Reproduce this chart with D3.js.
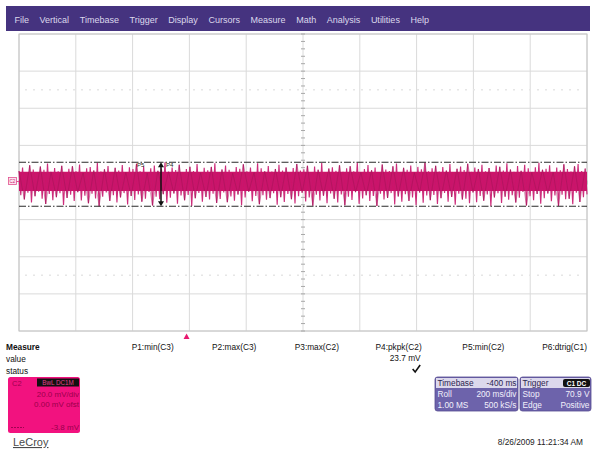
<!DOCTYPE html>
<html><head><meta charset="utf-8">
<script src="https://cdn.jsdelivr.net/npm/d3@7/dist/d3.min.js"></script>
<style>
html,body{margin:0;padding:0;background:#fff;}
svg{display:block;font-family:"Liberation Sans",Arial,sans-serif;}
</style></head>
<body>
<svg id="c" width="593" height="451"></svg>
<script>
// ---------- data ----------
const menuItems = ["File","Vertical","Timebase","Trigger","Display","Cursors","Measure","Math","Analysis","Utilities","Help"];
const timeDomainMs = [0, 2000];      // 10 div x 200 ms/div
const voltDomainMv = [-80, 80];      // 8 div x 20 mV/div
const timeDivMs = 200, voltDivMv = 20;
const traceHi = [
6.2,8.1,5.4,9.3,7.0,4.8,8.6,6.9,10.2,5.7,7.8,6.1,9.0,4.9,7.4,8.8,6.0,9.7,5.2,7.6,
8.3,6.5,10.6,5.9,7.1,8.9,4.6,7.9,6.4,9.4,5.5,8.2,7.3,10.1,6.0,8.7,5.1,7.7,9.2,6.3,
7.5,10.9,5.8,8.0,6.7,9.6,4.7,7.2,8.5,6.2,9.9,5.3,7.9,6.6,8.4,10.4,5.6,7.0,9.1,6.8,
5.0,8.3,7.4,9.8,6.1,8.0,5.4,10.3,7.6,6.0,8.9,5.9,7.3,9.5,6.4,8.1,4.8,7.8,10.0,6.5,
7.1,9.0,5.7,8.6,6.9,10.5,5.2,7.5,8.2,6.3,9.3,5.8,7.7,8.8,6.0,10.7,5.5,7.2,9.4,6.6,
8.0,5.1,9.7,7.0,6.2,8.7,10.2,5.6,7.9,6.8,9.2,5.3,8.4,7.1,10.8,6.1,7.6,9.0,5.9,8.3,
6.4,9.9,5.0,7.4,8.6,6.7,10.1,5.7,8.1,7.3,9.6,6.0,7.8,5.4,9.1,8.5,6.5,10.4,7.0,5.8,
8.9,6.3,9.5,7.7,5.5,8.2,10.6,6.9,7.4,9.3,5.6,8.0,6.6,9.8,7.2,5.9,8.7,10.0,6.2,7.5];
const traceLo = [
-6.8,-9.1,-5.5,-10.7,-7.4,-4.9,-8.8,-11.6,-6.2,-9.5,-7.9,-5.8,-12.1,-8.3,-6.6,-10.0,-5.2,-9.7,-7.1,-11.2,
-6.0,-8.6,-12.8,-7.7,-5.4,-9.9,-6.9,-10.8,-8.0,-5.7,-11.9,-7.3,-9.4,-6.4,-10.3,-8.7,-5.1,-12.4,-7.6,-9.0,
-6.3,-10.9,-8.2,-5.9,-11.4,-7.0,-9.6,-6.7,-12.6,-8.5,-5.6,-10.4,-7.8,-9.2,-6.1,-11.0,-8.9,-5.3,-10.6,-7.5,
-9.8,-6.5,-12.2,-8.1,-5.0,-10.1,-7.2,-11.7,-6.8,-9.3,-8.4,-5.8,-12.0,-7.9,-10.5,-6.2,-9.0,-11.3,-7.4,-5.5,
-10.2,-8.0,-12.5,-6.6,-9.7,-7.1,-11.1,-5.9,-8.8,-10.7,-6.4,-12.3,-7.7,-9.4,-5.2,-11.5,-8.6,-6.9,-10.0,-7.3,
-12.7,-6.0,-9.1,-8.3,-5.7,-11.8,-7.5,-10.4,-6.3,-9.9,-8.1,-12.2,-5.4,-10.9,-7.0,-9.5,-6.7,-11.6,-8.4,-5.6,
-10.3,-7.8,-12.0,-6.1,-9.2,-8.7,-11.2,-5.3,-10.6,-7.2,-9.8,-6.5,-12.8,-8.0,-5.8,-11.0,-7.6,-9.3,-6.8,-10.8,
-8.2,-5.1,-12.4,-7.4,-9.6,-6.2,-11.4,-8.5,-5.9,-10.1,-7.0,-12.6,-6.6,-9.0,-8.8,-11.7,-5.5,-10.5,-7.9,-6.4];
const coreBandMv = [-4.6, 5.8];
const paramLabels = ["P1:min(C3)","P2:max(C3)","P3:max(C2)","P4:pkpk(C2)","P5:min(C2)","P6:dtrig(C1)"];
const paramValues = ["","","","23.7 mV","",""];
const paramStatus = [false,false,false,true,false,false];
const measureRows = ["Measure","value","status"];
const chanLines = ["C2","BwL DC1M","20.0 mV/div","0.00 mV ofst","-3.8 mV"];
const timebaseRows = [["Timebase","-400 ms"],["Roll","200 ms/div"],["1.00 MS","500 kS/s"]];
const triggerRows = [["Trigger","C1 DC"],["Stop","70.9 V"],["Edge","Positive"]];
const triggerTimeMs = 590;
const dateText = "8/26/2009 11:21:34 AM";
const brand = "LeCroy";

// ---------- drawing ----------
const svg = d3.select("#c");
const gx0 = 19, gx1 = 587, gy0 = 34, gy1 = 331;
const x = d3.scaleLinear().domain(timeDomainMs).range([gx0, gx1]);
const y = d3.scaleLinear().domain(voltDomainMv).range([gy1, gy0]);

// menu bar
svg.append("rect").attr("x",6).attr("y",6).attr("width",584).attr("height",25).attr("fill","#45337f");
let mx = 14.5;
menuItems.forEach(m => {
  const t = svg.append("text").attr("x",mx).attr("y",22.5).attr("font-size",9)
    .attr("fill","#dcd8ec").text(m);
  mx += t.node().getComputedTextLength() + 10.6;
});

// grid
const g = svg.append("g");
g.append("rect").attr("x",gx0).attr("y",gy0).attr("width",gx1-gx0).attr("height",gy1-gy0)
  .attr("fill","#fff");
d3.range(timeDomainMs[0], timeDomainMs[1]+1, timeDivMs).forEach(t => {
  g.append("line").attr("x1",x(t)).attr("x2",x(t)).attr("y1",gy0).attr("y2",gy1)
    .attr("stroke","#dadada").attr("stroke-width",1);
});
d3.range(voltDomainMv[0], voltDomainMv[1]+1, voltDivMv).forEach(v => {
  g.append("line").attr("x1",gx0).attr("x2",gx1).attr("y1",y(v)).attr("y2",y(v))
    .attr("stroke","#dadada").attr("stroke-width",1);
});
// faint dotted rows
[50,-50].forEach(v => {
  g.append("line").attr("x1",gx0+6).attr("x2",gx1-6).attr("y1",y(v)).attr("y2",y(v))
    .attr("stroke","#e6e6e6").attr("stroke-width",1.5).attr("stroke-dasharray","2,6");
});
g.append("rect").attr("x",gx0).attr("y",gy0).attr("width",gx1-gx0).attr("height",gy1-gy0)
  .attr("fill","none").attr("stroke","#c4c4c4").attr("stroke-width",1);
// center axis minor ticks
const xc = x((timeDomainMs[0]+timeDomainMs[1])/2), yc = y(0);
d3.range(voltDomainMv[0], voltDomainMv[1]+0.1, voltDivMv/5).forEach(v => {
  g.append("line").attr("x1",xc-2).attr("x2",xc+2).attr("y1",y(v)).attr("y2",y(v))
    .attr("stroke","#a8a8a8").attr("stroke-width",1);
});
d3.range(timeDomainMs[0], timeDomainMs[1]+0.1, timeDivMs/5).forEach(t => {
  g.append("line").attr("x1",x(t)).attr("x2",x(t)).attr("y1",yc-2).attr("y2",yc+2)
    .attr("stroke","#a8a8a8").attr("stroke-width",1);
});

// trace
const n = traceHi.length;
const pts = [];
traceHi.forEach((h,i) => {
  pts.push([timeDomainMs[0] + (i*2) * (timeDomainMs[1]-timeDomainMs[0])/(2*n-1), h]);
  pts.push([timeDomainMs[0] + (i*2+1) * (timeDomainMs[1]-timeDomainMs[0])/(2*n-1), traceLo[i]]);
});
const area = d3.area().x(d=>x(d[0])).y0(y(coreBandMv[0])).y1(y(coreBandMv[1]));
svg.append("path").datum(pts).attr("d",area).attr("fill","#cc1469");
const line = d3.line().x(d=>x(d[0])).y(d=>y(d[1]));
svg.append("path").datum(pts).attr("d",line).attr("fill","none")
  .attr("stroke","#c8166d").attr("stroke-width",1.15).attr("stroke-opacity",0.9);
// darker streaks inside core
svg.append("path").datum(pts.filter((d,i)=>i%3===0)).attr("d",line).attr("fill","none")
  .attr("stroke","#92124f").attr("stroke-width",0.7).attr("stroke-opacity",0.55);

// max / min dash-dot levels
const vMax = d3.max(traceHi), vMin = d3.min(traceLo);
[vMax, vMin].forEach(v => {
  svg.append("line").attr("x1",gx0).attr("x2",gx1).attr("y1",y(v)).attr("y2",y(v))
    .attr("stroke","#2a2a2a").attr("stroke-width",1.2).attr("stroke-dasharray","7,2,1.5,2");
});
// pkpk arrow
const ax = x(500);
svg.append("line").attr("x1",ax).attr("x2",ax).attr("y1",y(vMax)+3).attr("y2",y(vMin)-3)
  .attr("stroke","#111").attr("stroke-width",1.5);
svg.append("path").attr("d",`M${ax-3},${y(vMax)+5}L${ax},${y(vMax)}L${ax+3},${y(vMax)+5}Z`).attr("fill","#111");
svg.append("path").attr("d",`M${ax-3},${y(vMin)-5}L${ax},${y(vMin)}L${ax+3},${y(vMin)-5}Z`).attr("fill","#111");
svg.append("text").attr("x",ax-24).attr("y",y(vMax)+5).attr("font-size",6).attr("fill","#222").text("P5");
svg.append("text").attr("x",ax+5).attr("y",y(vMax)+5).attr("font-size",6).attr("fill","#222").text("P4");

// channel marker C2
svg.append("line").attr("x1",15).attr("x2",gx0).attr("y1",yc-1).attr("y2",yc-1).attr("stroke","#e0508f");
svg.append("rect").attr("x",8.5).attr("y",yc-5).attr("width",8).attr("height",7)
  .attr("fill","#fbe3ee").attr("stroke","#e0508f").attr("stroke-width",0.8);
svg.append("text").attr("x",12.5).attr("y",yc+0.8).attr("text-anchor","middle").attr("font-size",4.5)
  .attr("fill","#d0206f").text("C2");

// trigger marker
const tx = x(triggerTimeMs);
svg.append("path").attr("d",`M${tx-3},${339}L${tx},${333.5}L${tx+3},${339}Z`).attr("fill","#e8186f");

// measure section
measureRows.forEach((r,i) => {
  svg.append("text").attr("x",6).attr("y",350+i*12).attr("font-size",8.3)
    .attr("font-weight", i===0 ? "bold" : "normal").attr("fill","#111").text(r);
});
const px = d3.scaleBand().domain(paramLabels).range([91,587]);
paramLabels.forEach((p,i) => {
  const ex = px(p) + px.bandwidth();
  svg.append("text").attr("x",ex).attr("y",350).attr("text-anchor","end").attr("font-size",8.3)
    .attr("fill","#111").text(p);
  if (paramValues[i]) svg.append("text").attr("x",ex-1).attr("y",361).attr("text-anchor","end")
    .attr("font-size",8.3).attr("fill","#111").text(paramValues[i]);
  if (paramStatus[i]) svg.append("path")
    .attr("d",`M${ex-9},${369}L${ex-6.5},${372}L${ex-1.5},${365}`).attr("fill","none")
    .attr("stroke","#111").attr("stroke-width",1.6);
});

// channel box
svg.append("rect").attr("x",8).attr("y",377).attr("width",72).attr("height",56).attr("rx",2.5)
  .attr("fill","#f2127f");
svg.append("text").attr("x",12).attr("y",385.5).attr("font-size",7.5).attr("fill","#9c0050").text(chanLines[0]);
svg.append("rect").attr("x",37).attr("y",378.5).attr("width",42).attr("height",8).attr("fill","#111");
svg.append("text").attr("x",58).attr("y",385).attr("text-anchor","middle").attr("font-size",6.3)
  .attr("fill","#e0408a").text(chanLines[1]);
[[chanLines[2],397],[chanLines[3],406.5],[chanLines[4],430]].forEach(([t,yy]) => {
  svg.append("text").attr("x",79).attr("y",yy).attr("text-anchor","end").attr("font-size",8)
    .attr("fill","#9a004c").text(t);
});
svg.append("line").attr("x1",11).attr("x2",24).attr("y1",427.5).attr("y2",427.5)
  .attr("stroke","#8c0046").attr("stroke-width",0.8).attr("stroke-dasharray","2,1");

// timebase & trigger boxes
function infoBox(x0, w, rows, badge) {
  svg.append("rect").attr("x",x0).attr("y",377).attr("width",w).attr("height",34).attr("rx",2.5)
    .attr("fill","#6d63ab").attr("stroke","#54498f").attr("stroke-width",0.8);
  svg.append("rect").attr("x",x0+1).attr("y",378).attr("width",w-2).attr("height",10)
    .attr("fill","#dcd8ec");
  rows.forEach((r,i) => {
    const yy = 386.3 + i*11;
    svg.append("text").attr("x",x0+2.5).attr("y",yy).attr("font-size",8.3)
      .attr("fill", i===0 ? "#2c2550" : "#f2f0fb").text(r[0]);
    if (i===0 && badge) {
      const bw = 27;
      svg.append("rect").attr("x",x0+w-bw-1).attr("y",379).attr("width",bw).attr("height",8)
        .attr("rx",2).attr("fill","#111");
      svg.append("text").attr("x",x0+w-bw/2-1).attr("y",385.5).attr("text-anchor","middle")
        .attr("font-size",6.5).attr("font-weight","bold").attr("fill","#fff").text(r[1]);
    } else {
      svg.append("text").attr("x",x0+w-1.5).attr("y",yy).attr("text-anchor","end").attr("font-size",8.3)
        .attr("fill", i===0 ? "#2c2550" : "#f2f0fb").text(r[1]);
    }
  });
}
infoBox(435, 83, timebaseRows, false);
infoBox(520, 71, triggerRows, true);

// footer
svg.append("text").attr("x",13).attr("y",446).attr("font-size",11).attr("fill","#4a4a4a")
  .attr("text-decoration","underline").text(brand);
svg.append("text").attr("x",583).attr("y",445).attr("text-anchor","end").attr("font-size",8.3)
  .attr("fill","#222").text(dateText);
</script>
</body></html>
